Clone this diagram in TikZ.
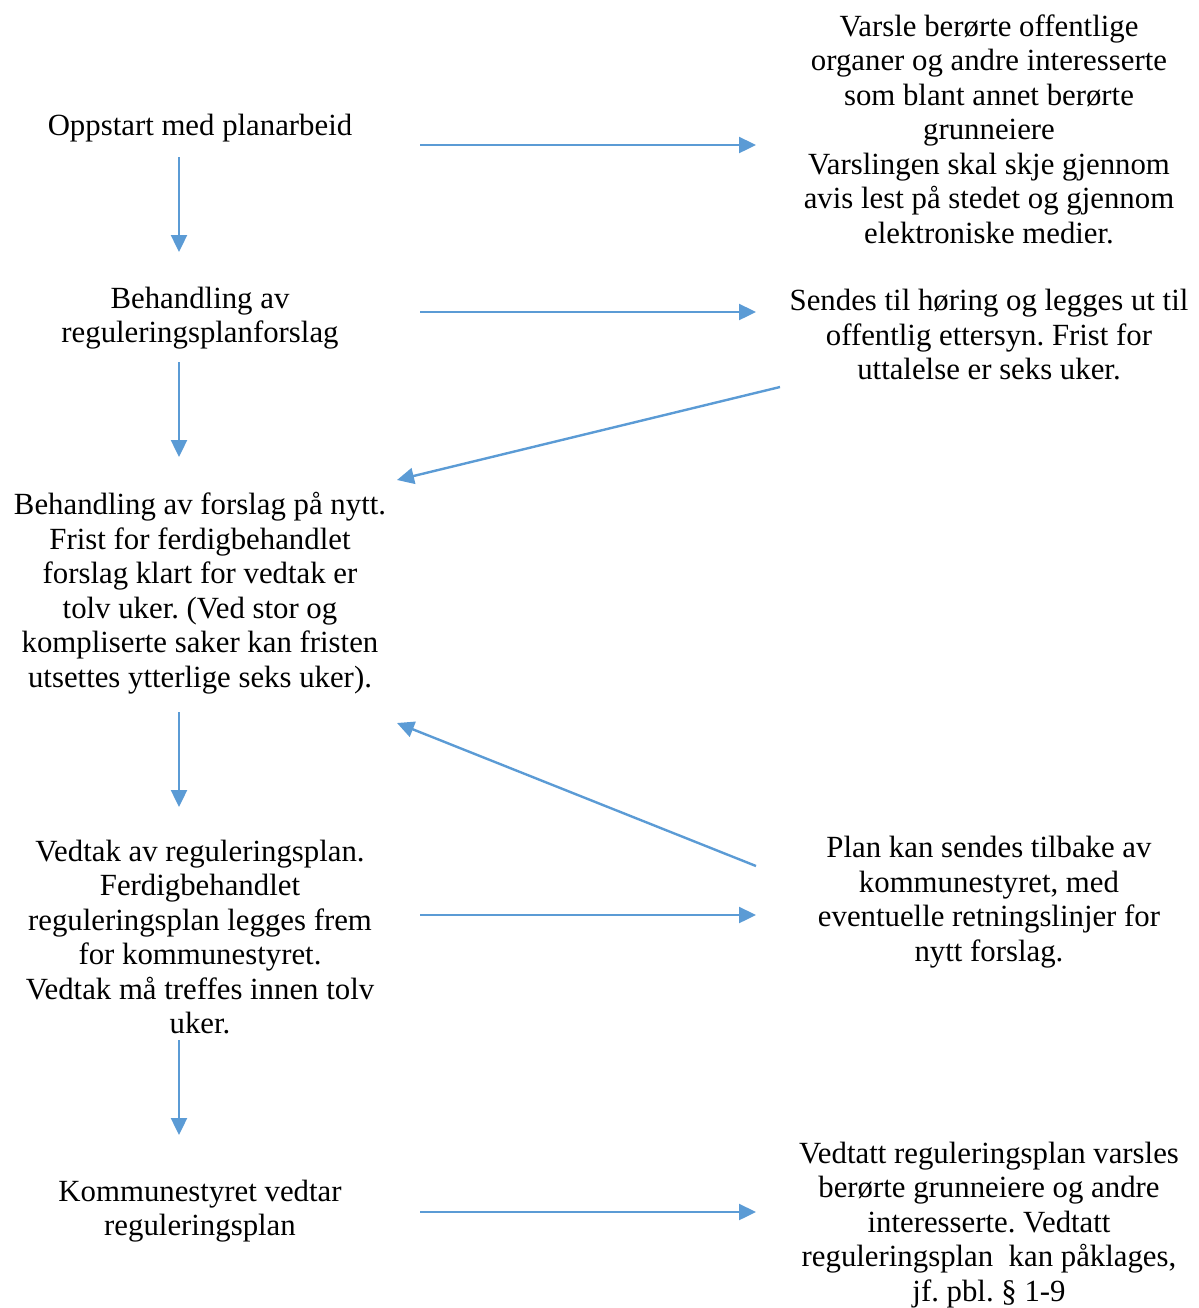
\documentclass[tikz,border=0pt]{standalone}
\usepackage{fontspec}
\setmainfont{Liberation Serif}
\usetikzlibrary{arrows.meta}
\definecolor{flowblue}{HTML}{5B9BD5}
\tikzset{
  txt/.style={align=center, inner sep=0pt, font=\fontsize{15.4pt}{17.25pt}\selectfont},
  arr/.style={draw=flowblue, line width=1.2pt, -{Triangle[length=8.5pt,width=8pt]}, fill=flowblue}
}
\begin{document}
\frenchspacing
\begin{tikzpicture}[x=0.5pt, y=-0.5pt]
\useasboundingbox (0,0) rectangle (1199,1308);

% left column: the planning steps
\node[txt] (s1) at (200,128) {Oppstart med planarbeid};
\node[txt] (s2) at (200,318) {Behandling av\\reguleringsplanforslag};
\node[txt] (s3) at (200,593) {Behandling av forslag på nytt.\\Frist for ferdigbehandlet\\forslag klart for vedtak er\\tolv uker. (Ved stor og\\kompliserte saker kan fristen\\utsettes ytterlige seks uker).};
\node[txt] (s4) at (200,937) {Vedtak av reguleringsplan.\\Ferdigbehandlet\\reguleringsplan legges frem\\for kommunestyret.\\Vedtak må treffes innen tolv\\uker.};
\node[txt] (s5) at (200,1211) {Kommunestyret vedtar\\reguleringsplan};

% right column: what happens alongside each step
\node[txt] (r1) at (989,129) {Varsle berørte offentlige\\organer og andre interesserte\\som blant annet berørte\\grunneiere\\Varslingen skal skje gjennom\\avis lest på stedet og gjennom\\elektroniske medier.};
\node[txt] (r2) at (989,335) {Sendes til høring og legges ut til\\offentlig ettersyn. Frist for\\uttalelse er seks uker.};
\node[txt] (r3) at (989,902) {Plan kan sendes tilbake av\\kommunestyret, med\\eventuelle retningslinjer for\\nytt forslag.};
\node[txt] (r4) at (989,1225) {Vedtatt reguleringsplan varsles\\berørte grunneiere og andre\\interesserte. Vedtatt\\reguleringsplan\ \ kan påklages,\\jf. pbl. § 1-9};

% connector end points
\coordinate (v1a) at (179,157);  \coordinate (v1b) at (179,252);
\coordinate (v2a) at (179,362);  \coordinate (v2b) at (179,457);
\coordinate (v3a) at (179,712);  \coordinate (v3b) at (179,807);
\coordinate (v4a) at (179,1040); \coordinate (v4b) at (179,1135);

\coordinate (h1a) at (420,145);  \coordinate (h1b) at (756,145);
\coordinate (h2a) at (420,312);  \coordinate (h2b) at (756,312);
\coordinate (h3a) at (420,915);  \coordinate (h3b) at (756,915);
\coordinate (h4a) at (420,1212); \coordinate (h4b) at (756,1212);

\coordinate (d1a) at (780,387);  \coordinate (d1b) at (397,480);
\coordinate (d2a) at (756,866);  \coordinate (d2b) at (397,723);

% downward flow
\draw[arr] (v1a) -- (v1b);
\draw[arr] (v2a) -- (v2b);
\draw[arr] (v3a) -- (v3b);
\draw[arr] (v4a) -- (v4b);

% side effects
\draw[arr] (h1a) -- (h1b);
\draw[arr] (h2a) -- (h2b);
\draw[arr] (h3a) -- (h3b);
\draw[arr] (h4a) -- (h4b);

% feedback into renewed treatment
\draw[arr] (d1a) -- (d1b);
\draw[arr] (d2a) -- (d2b);
\end{tikzpicture}
\end{document}
